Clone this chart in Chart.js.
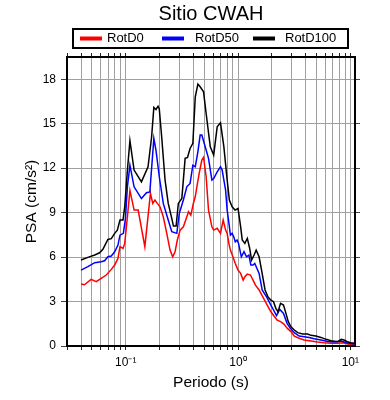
<!DOCTYPE html>
<html><head><meta charset="utf-8">
<script src="https://cdn.jsdelivr.net/npm/chart.js@4.4.1/dist/chart.umd.min.js"></script>
<style>html,body{margin:0;padding:0;background:#fff}</style>
</head><body>
<canvas id="c" width="390" height="400"></canvas>
<script>
const titleText = 'Sitio CWAH';
const xTitle = 'Periodo (s)';
const yTitle = 'PSA (cm/s²)';
const seriesNames = ['RotD0', 'RotD50', 'RotD100'];
const seriesColors = ['#ff0000', '#0000ff', '#000000'];

const periodsD0 = [0.040,0.0429,0.0492,0.0546,0.0605,0.0671,0.0744,0.0797,0.0853,0.0889,0.0946,0.098,0.1035,0.109,0.1187,0.129,0.148,0.166,0.174,0.182,0.191,0.202,0.216,0.232,0.248,0.262,0.275,0.288,0.305,0.326,0.350,0.362,0.380,0.400,0.416,0.430,0.451,0.476,0.493,0.520,0.546,0.585,0.607,0.652,0.698,0.737,0.775,0.800,0.830,0.855,0.900,0.945,1.00,1.055,1.11,1.15,1.21,1.29,1.36,1.43,1.54,1.75,1.96,2.09,2.23,2.39,2.56,2.75,2.96,3.17,3.50,3.88,4.46,5.10,5.85,6.74,7.74,8.60,9.50,10.9];
const rotD0 = [4.18,4.13,4.50,4.34,4.56,4.79,5.17,5.46,5.91,6.70,6.58,6.92,8.72,10.5,9.17,9.17,6.70,10.3,9.62,9.85,9.62,9.39,8.72,7.60,6.47,6.02,6.36,7.15,7.82,8.04,8.72,9.06,8.83,9.62,10.07,10.74,11.65,12.54,12.72,11.42,9.17,8.04,7.82,7.94,7.60,8.50,7.82,7.60,6.90,6.47,6.02,5.57,5.12,4.90,4.45,4.67,4.85,4.79,4.45,4.11,3.78,3.00,2.31,2.02,1.75,1.64,1.48,1.19,0.97,0.67,0.52,0.40,0.34,0.27,0.22,0.18,0.18,0.22,0.13,0.09];

const periodsD50 = [0.040,0.046,0.053,0.0605,0.0648,0.0694,0.0744,0.0797,0.0853,0.0889,0.0953,0.0994,0.1035,0.109,0.1187,0.138,0.153,0.164,0.178,0.186,0.199,0.216,0.239,0.257,0.285,0.300,0.326,0.350,0.374,0.396,0.416,0.439,0.460,0.476,0.510,0.546,0.585,0.607,0.652,0.698,0.722,0.775,0.800,0.830,0.855,0.886,0.915,0.945,0.980,1.01,1.07,1.13,1.19,1.25,1.30,1.36,1.41,1.54,1.64,1.80,1.96,2.07,2.20,2.35,2.54,2.73,2.92,3.17,3.50,3.88,4.29,4.75,5.47,6.30,7.20,8.30,9.20,10.5,11.0];
const rotD50 = [5.12,5.35,5.62,5.69,5.75,6.02,6.07,6.36,6.81,7.48,7.60,8.60,10.74,12.2,10.74,9.95,10.34,10.4,14.0,13.2,11.42,9.62,8.50,7.71,7.60,8.95,9.85,10.74,10.97,12.2,12.09,13.1,14.23,14.23,13.44,12.66,11.2,11.3,11.75,12.09,11.87,10.52,9.17,8.27,7.48,7.60,7.37,7.03,7.15,6.92,6.02,6.36,6.02,6.14,5.46,5.46,5.57,4.90,3.78,3.30,2.76,2.43,2.05,2.47,2.20,1.53,1.19,0.90,0.67,0.63,0.58,0.49,0.40,0.31,0.27,0.34,0.22,0.16,0.15];

const periodsD100 = [0.040,0.046,0.053,0.0585,0.0626,0.0694,0.0744,0.0797,0.0842,0.0889,0.0946,0.098,0.1035,0.109,0.1187,0.138,0.158,0.170,0.178,0.186,0.194,0.199,0.209,0.224,0.239,0.257,0.266,0.281,0.294,0.316,0.338,0.355,0.374,0.396,0.416,0.439,0.460,0.493,0.520,0.566,0.607,0.652,0.698,0.748,0.800,0.837,0.886,0.940,1.00,1.055,1.09,1.15,1.21,1.27,1.32,1.39,1.45,1.54,1.62,1.74,1.85,1.96,2.07,2.17,2.27,2.39,2.54,2.67,2.80,2.96,3.17,3.40,3.77,4.16,4.46,4.93,5.47,6.07,6.74,7.74,8.30,8.78,9.40,10.1,11.0];
const rotD100 = [5.80,5.98,6.14,6.29,6.52,7.19,7.24,7.60,7.82,8.50,8.50,9.40,11.87,13.85,11.87,11.08,12.09,14.1,16.1,15.96,16.18,16.0,14.1,11.2,9.62,8.61,8.09,8.09,9.62,9.96,12.66,12.72,13.33,13.67,16.81,17.67,17.49,17.15,15.69,13.44,12.88,14.79,15.06,13.44,11.2,9.85,9.39,9.17,9.28,8.04,7.15,6.92,7.26,6.58,5.80,6.14,6.47,6.02,5.12,3.78,3.30,3.10,2.99,2.54,2.31,2.88,2.76,2.20,1.64,1.30,1.08,0.90,0.81,0.81,0.72,0.67,0.58,0.45,0.36,0.29,0.45,0.40,0.29,0.22,0.18];

const xTickValues = [0.03,0.04,0.05,0.06,0.07,0.08,0.09,0.1,0.2,0.3,0.4,0.5,0.6,0.7,0.8,0.9,1,2,3,4,5,6,7,8,9,10];
const xTickLabels = {0.1: '10⁻¹', 1: '10⁰', 10: '10¹'};
const yTickValues = [0, 3, 6, 9, 12, 15, 18];

function pts(xs, ys) { return xs.map((x, i) => ({x: x, y: ys[i]})); }

const fontFam = "'Liberation Sans', Arial, Helvetica, sans-serif";
Chart.defaults.font.family = fontFam;
Chart.defaults.color = '#000';

const setXTicks = s => { s.ticks = xTickValues.map(v => ({value: v})); };
const setYTicks = s => { s.ticks = yTickValues.map(v => ({value: v})); };

const legendBox = {
  id: 'legendBox',
  afterDraw(chart) {
    const ctx = chart.ctx, ca = chart.chartArea;
    const l = ca.left + 6, r = ca.right - 7, t = ca.top - 28, b = ca.top - 9;
    ctx.save();
    ctx.fillStyle = '#fff';
    ctx.fillRect(l, t, r - l, b - t);
    ctx.lineWidth = 2;
    ctx.strokeStyle = '#000';
    ctx.strokeRect(l, t, r - l, b - t);
    const yc = (t + b) / 2;
    const lineStart = [7, 89, 180], textStart = [34, 122, 212];
    ctx.font = '13px ' + fontFam;
    ctx.textBaseline = 'middle';
    ctx.textAlign = 'left';
    chart.data.datasets.forEach((ds, i) => {
      ctx.strokeStyle = ds.borderColor;
      ctx.lineWidth = 4;
      ctx.beginPath();
      ctx.moveTo(l + lineStart[i], yc);
      ctx.lineTo(l + lineStart[i] + 22, yc);
      ctx.stroke();
      ctx.fillStyle = '#000';
      ctx.fillText(ds.label, l + textStart[i], yc);
    });
    ctx.restore();
  }
};

const seriesData = [pts(periodsD0, rotD0), pts(periodsD50, rotD50), pts(periodsD100, rotD100)];

new Chart(document.getElementById('c'), {
  type: 'line',
  data: {
    datasets: seriesNames.map((n, i) => ({
      label: n,
      data: seriesData[i],
      borderColor: seriesColors[i],
      backgroundColor: seriesColors[i],
      borderWidth: 1.5,
      pointRadius: 0,
      tension: 0,
      fill: false,
      order: 3 - i
    }))
  },
  options: {
    responsive: false,
    animation: false,
    devicePixelRatio: 1,
    layout: { padding: 0 },
    plugins: {
      legend: { display: false },
      tooltip: { enabled: false },
      title: {
        display: true, text: titleText, fullSize: false, color: '#000',
        font: { size: 20, weight: 'normal' }, padding: { top: 2, bottom: 26 }
      }
    },
    scales: {
      x: {
        type: 'logarithmic', position: 'bottom', min: 0.03, max: 11,
        afterBuildTicks: setXTicks,
        afterFit: s => { s.height = 54; },
        grid: { color: '#a0a0a0', lineWidth: 1, drawTicks: true, tickLength: 4, tickColor: '#222' },
        border: { display: true, color: '#000', width: 2 },
        ticks: { autoSkip: false, maxRotation: 0, minRotation: 0, padding: 5, font: { size: 12 }, color: '#000',
                 callback: v => xTickLabels[v] || '' },
        title: { display: true, text: xTitle, color: '#000', font: { size: 15.5 }, padding: { top: 0, bottom: 8 } }
      },
      x2: {
        type: 'logarithmic', position: 'top', min: 0.03, max: 11,
        afterBuildTicks: setXTicks,
        afterFit: s => { s.height = 5; },
        grid: { drawOnChartArea: false, drawTicks: true, tickLength: 4, tickColor: '#222' },
        border: { display: true, color: '#000', width: 2 },
        ticks: { display: false }
      },
      y: {
        type: 'linear', position: 'left', min: 0, max: 19.5,
        afterBuildTicks: setYTicks,
        afterFit: s => { s.width = 67; },
        grid: { color: '#a0a0a0', lineWidth: 1, drawTicks: true, tickLength: 6, tickColor: '#444' },
        border: { display: true, color: '#000', width: 2 },
        ticks: { padding: 5, font: { size: 12 }, color: '#000' },
        title: { display: true, text: yTitle, color: '#000', font: { size: 15.5 }, padding: { top: 22, bottom: 0 } }
      },
      y2: {
        type: 'linear', position: 'right', min: 0, max: 19.5,
        afterBuildTicks: setYTicks,
        afterFit: s => { s.width = 35; },
        grid: { drawOnChartArea: false, drawTicks: true, tickLength: 5, tickColor: '#444' },
        border: { display: true, color: '#000', width: 2 },
        ticks: { display: false }
      }
    }
  },
  plugins: [legendBox]
});
</script>
</body></html>
